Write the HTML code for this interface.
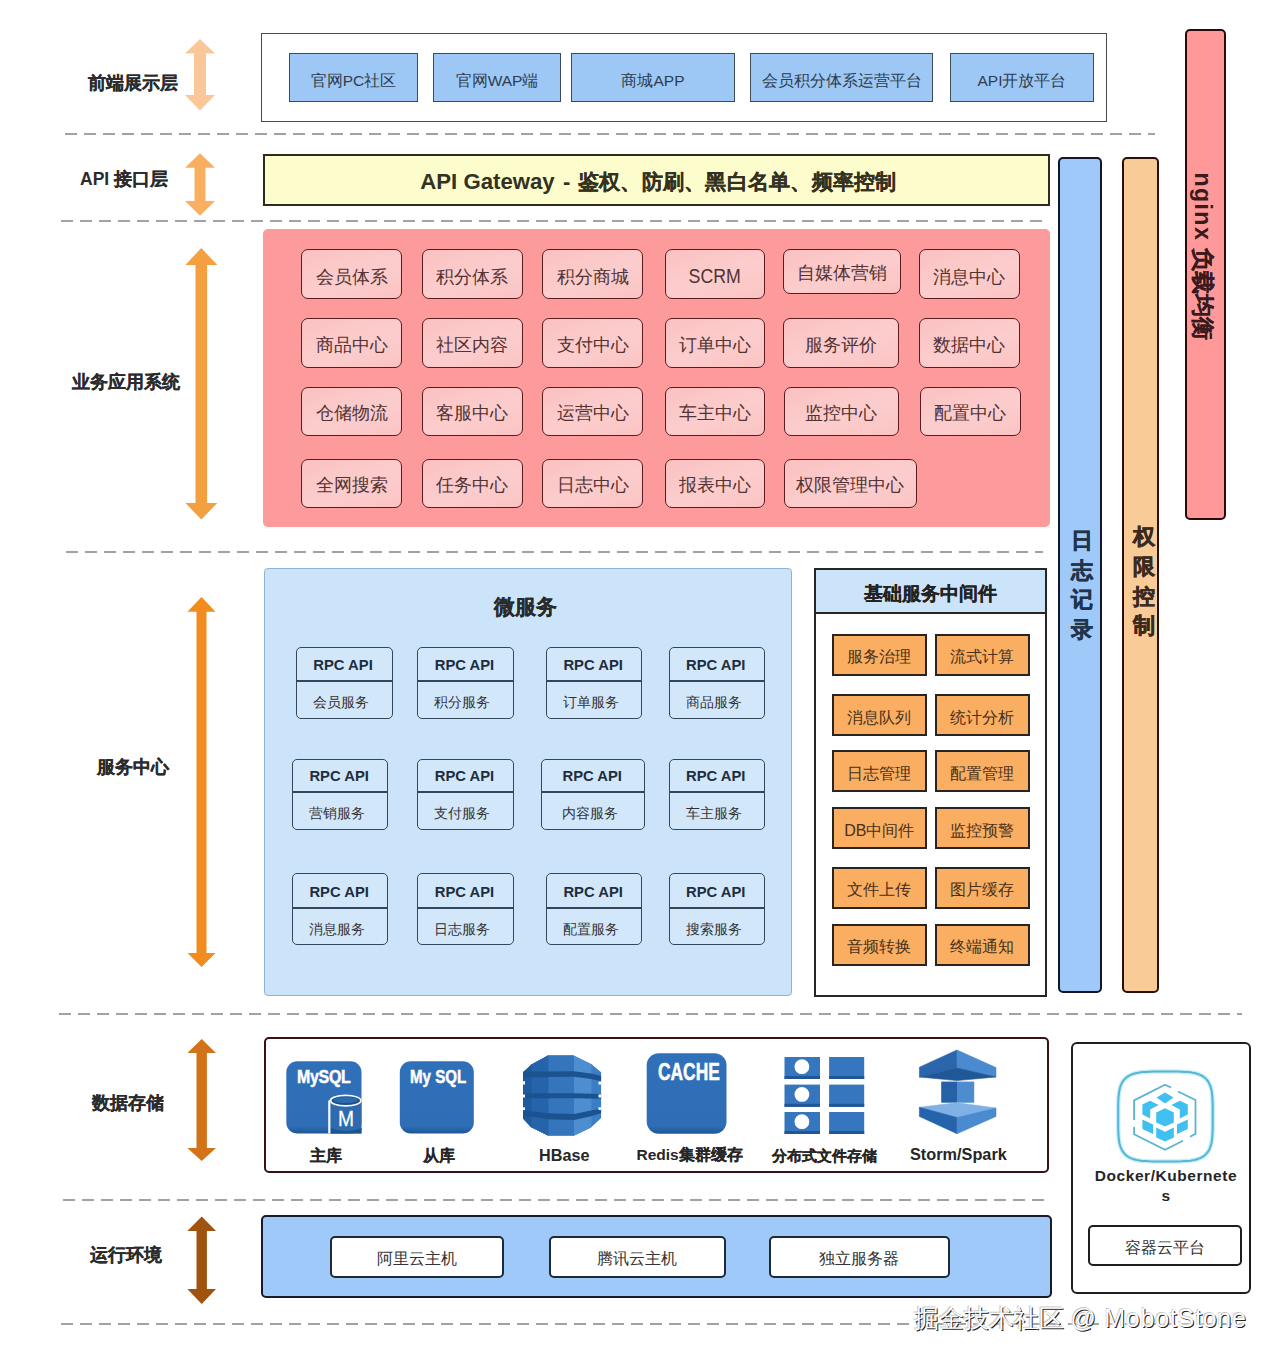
<!DOCTYPE html><html><head><meta charset="utf-8"><style>
*{margin:0;padding:0;box-sizing:border-box}
html,body{width:1280px;height:1366px;background:#fff;overflow:hidden}
body{position:relative;font-family:"Liberation Sans",sans-serif;color:#333}
div{position:absolute}
.c{display:flex;align-items:center;justify-content:center;white-space:nowrap}
.lbl{font-weight:bold;font-size:17.3px;color:#2b2b2b;white-space:nowrap;line-height:1}
.k{-webkit-text-stroke:0.2px currentColor}
.dash{height:2px;background:repeating-linear-gradient(90deg,#a2a2a2 0 12px,transparent 12px 19px)}
.fe{background:#9dc8f6;border:1.8px solid #3d4a58;color:#2f3d4d;font-size:15.5px;padding-top:7px}
.rb{background:linear-gradient(160deg,#fbc1c1,#fccdcd 55%,#fbc3c3);border:1.7px solid #5a1c1c;border-radius:7px;color:#523232;font-size:17.5px;padding-top:4px}
.rpc{border:1.6px solid #34475a;border-radius:5px;background:#d3e7fb}
.rpc .t{left:0;right:2px;top:0;font-weight:bold;font-size:14.8px;color:#1e2e3e;text-align:center;margin-top:0.5px}
.rpc .s{left:0;right:6px;font-size:14.4px;color:#333;text-align:center;margin-top:2.5px}
.rpc .d{left:0;right:0;height:1.6px;background:#34475a}
.ob{background:#f9ae62;border:2.5px solid #2a2420;color:#4a3018;font-size:16px;padding-top:6px}
.wb{background:#fff;border:2px solid #1e2a38;border-radius:5px;color:#333;font-size:15.8px;padding-top:6px}
.st{font-weight:bold;font-size:15.5px;color:#262626;white-space:nowrap}
</style></head><body>
<div class="lbl" style="left:88px;top:74.5px;font-size:17.5px"><span class="k">前端展示层</span></div>
<div class="lbl" style="left:80px;top:170.5px;font-size:17.5px">API <span class="k">接口层</span></div>
<div class="lbl" style="left:72px;top:374px;font-size:17.5px"><span class="k">业务应用系统</span></div>
<div class="lbl" style="left:97px;top:759px;font-size:17.5px"><span class="k">服务中心</span></div>
<div class="lbl" style="left:92px;top:1095px;font-size:17.5px"><span class="k">数据存储</span></div>
<div class="lbl" style="left:90px;top:1247px;font-size:17.5px"><span class="k">运行环境</span></div>
<svg style="position:absolute;left:0;top:0" width="1280" height="1366"><polygon points="200.0,39.0 215.0,53.6 206.0,53.6 206.0,95.0 215.0,95.0 200.0,110.6 185.0,95.0 194.0,95.0 194.0,53.6 185.0,53.6" fill="#fac898"/></svg>
<svg style="position:absolute;left:0;top:0" width="1280" height="1366"><polygon points="200.0,153.3 215.0,167.8 205.5,167.8 205.5,201.0 215.0,201.0 200.0,215.8 185.0,201.0 194.5,201.0 194.5,167.8 185.0,167.8" fill="#f8b060"/></svg>
<svg style="position:absolute;left:0;top:0" width="1280" height="1366"><polygon points="201.3,248.0 217.3,265.0 207.1,265.0 207.1,503.0 217.3,503.0 201.3,519.4 185.3,503.0 195.5,503.0 195.5,265.0 185.3,265.0" fill="#f5a040"/></svg>
<svg style="position:absolute;left:0;top:0" width="1280" height="1366"><polygon points="201.5,597.0 215.5,611.7 206.5,611.7 206.5,953.0 215.5,953.0 201.5,967.0 187.5,953.0 196.5,953.0 196.5,611.7 187.5,611.7" fill="#f28c1e"/></svg>
<svg style="position:absolute;left:0;top:0" width="1280" height="1366"><polygon points="201.7,1039.0 216.0,1053.0 206.9,1053.0 206.9,1148.0 216.0,1148.0 201.7,1161.0 187.4,1148.0 196.5,1148.0 196.5,1053.0 187.4,1053.0" fill="#d2731a"/></svg>
<svg style="position:absolute;left:0;top:0" width="1280" height="1366"><polygon points="201.7,1216.4 216.0,1231.0 206.9,1231.0 206.9,1289.0 216.0,1289.0 201.7,1304.0 187.4,1289.0 196.5,1289.0 196.5,1231.0 187.4,1231.0" fill="#a0520f"/></svg>
<div class="dash" style="left:65px;top:133px;width:1090px"></div>
<div class="dash" style="left:61px;top:220px;width:988px"></div>
<div class="dash" style="left:66px;top:551px;width:977px"></div>
<div class="dash" style="left:59px;top:1013px;width:1183px"></div>
<div class="dash" style="left:63px;top:1199px;width:986px"></div>
<div class="dash" style="left:61px;top:1323px;width:1184px"></div>
<div class="" style="left:261px;top:33px;width:846px;height:89px;border:1.8px solid #474a4e;background:#fff"></div>
<div class="c fe" style="left:289px;top:53px;width:129px;height:49px;"><span>官网PC社区</span></div>
<div class="c fe" style="left:433px;top:53px;width:128px;height:49px;"><span>官网WAP端</span></div>
<div class="c fe" style="left:571px;top:53px;width:164px;height:49px;"><span>商城APP</span></div>
<div class="c fe" style="left:750px;top:53px;width:183px;height:49px;"><span>会员积分体系运营平台</span></div>
<div class="c fe" style="left:950px;top:53px;width:144px;height:49px;"><span>API开放平台</span></div>
<div class="c" style="left:263px;top:154px;width:787px;height:52px;background:#fdfccc;border:2px solid #2e2a1e;font-weight:bold;font-size:22px;color:#33311f;padding-top:3px;padding-left:4px"><span><span style="font-size:22.2px">API Gateway</span><span style="margin:0 7.6px 0 8.3px">-</span><span class=k style="font-size:21.3px;letter-spacing:0.25px">鉴权、防刷、黑白名单、频率控制</span></span></div>
<div class="" style="left:263px;top:229px;width:787px;height:298px;background:#fd9a9c;border-radius:5px"></div>
<div class="c rb" style="left:301px;top:248.8px;width:101px;height:50.69999999999999px;padding-top:6.5px"><span>会员体系</span></div>
<div class="c rb" style="left:421.5px;top:248.8px;width:101.0px;height:50.69999999999999px;padding-top:6.5px"><span>积分体系</span></div>
<div class="c rb" style="left:542px;top:248.8px;width:101px;height:50.69999999999999px;padding-top:6.5px"><span>积分商城</span></div>
<div class="c rb" style="left:664.5px;top:248.8px;width:100.5px;height:50.69999999999999px;padding-top:6.5px"><span><span style="font-size:19.5px;display:inline-block;transform:translateY(-1.5px) scaleX(0.91)">SCRM</span></span></div>
<div class="c rb" style="left:782.5px;top:248.8px;width:118.0px;height:44.80000000000001px;padding-top:4px"><span>自媒体营销</span></div>
<div class="c rb" style="left:918.5px;top:248.8px;width:101.0px;height:50.69999999999999px;padding-top:6.5px"><span>消息中心</span></div>
<div class="c rb" style="left:301px;top:318px;width:101px;height:49.5px;"><span>商品中心</span></div>
<div class="c rb" style="left:421.5px;top:318px;width:101.0px;height:49.5px;"><span>社区内容</span></div>
<div class="c rb" style="left:542px;top:318px;width:101px;height:49.5px;"><span>支付中心</span></div>
<div class="c rb" style="left:664.5px;top:318px;width:100.5px;height:49.5px;"><span>订单中心</span></div>
<div class="c rb" style="left:783px;top:318px;width:116px;height:49.5px;"><span>服务评价</span></div>
<div class="c rb" style="left:918.5px;top:318px;width:101.0px;height:49.5px;"><span>数据中心</span></div>
<div class="c rb" style="left:301px;top:386.5px;width:101px;height:49.0px;"><span>仓储物流</span></div>
<div class="c rb" style="left:421.5px;top:386.5px;width:101.0px;height:49.0px;"><span>客服中心</span></div>
<div class="c rb" style="left:542px;top:386.5px;width:101px;height:49.0px;"><span>运营中心</span></div>
<div class="c rb" style="left:664.5px;top:386.5px;width:100.5px;height:49.0px;"><span>车主中心</span></div>
<div class="c rb" style="left:783.5px;top:386.5px;width:115.5px;height:49.0px;"><span>监控中心</span></div>
<div class="c rb" style="left:920px;top:386.5px;width:100.5px;height:49.0px;"><span>配置中心</span></div>
<div class="c rb" style="left:301px;top:458.5px;width:101px;height:49.0px;"><span>全网搜索</span></div>
<div class="c rb" style="left:421.5px;top:458.5px;width:101.0px;height:49.0px;"><span>任务中心</span></div>
<div class="c rb" style="left:542px;top:458.5px;width:101px;height:49.0px;"><span>日志中心</span></div>
<div class="c rb" style="left:664.5px;top:458.5px;width:100.5px;height:49.0px;"><span>报表中心</span></div>
<div class="c rb" style="left:783.5px;top:458.5px;width:133.5px;height:49.0px;"><span>权限管理中心</span></div>
<div class="" style="left:263.5px;top:568px;width:528.5px;height:428px;background:#cce4fa;border:1.5px solid #8fb3d3;border-radius:4px"></div>
<div style="left:494px;top:596.5px;font-weight:bold;font-size:20.5px;color:#2a2a2a;white-space:nowrap;line-height:1"><span class="k">微服务</span></div>
<div class="rpc" style="left:295.5px;top:647px;width:97.10000000000002px;height:71.5px"><div class="t" style="top:7.649999999999977px;line-height:18px">RPC API</div><div class="d" style="top:32.299999999999955px"></div><div class="s" style="top:42.39999999999998px;line-height:18px">会员服务</div></div>
<div class="rpc" style="left:417.4px;top:647px;width:96.20000000000005px;height:71.5px"><div class="t" style="top:7.649999999999977px;line-height:18px">RPC API</div><div class="d" style="top:32.299999999999955px"></div><div class="s" style="top:42.39999999999998px;line-height:18px">积分服务</div></div>
<div class="rpc" style="left:545.8px;top:647px;width:96.70000000000005px;height:71.5px"><div class="t" style="top:7.649999999999977px;line-height:18px">RPC API</div><div class="d" style="top:32.299999999999955px"></div><div class="s" style="top:42.39999999999998px;line-height:18px">订单服务</div></div>
<div class="rpc" style="left:668.8px;top:647px;width:95.80000000000007px;height:71.5px"><div class="t" style="top:7.649999999999977px;line-height:18px">RPC API</div><div class="d" style="top:32.299999999999955px"></div><div class="s" style="top:42.39999999999998px;line-height:18px">商品服务</div></div>
<div class="rpc" style="left:292px;top:758.6px;width:96.30000000000001px;height:71.60000000000002px"><div class="t" style="top:7.399999999999977px;line-height:18px">RPC API</div><div class="d" style="top:31.799999999999955px"></div><div class="s" style="top:42.19999999999999px;line-height:18px">营销服务</div></div>
<div class="rpc" style="left:417.4px;top:758.6px;width:96.20000000000005px;height:71.60000000000002px"><div class="t" style="top:7.399999999999977px;line-height:18px">RPC API</div><div class="d" style="top:31.799999999999955px"></div><div class="s" style="top:42.19999999999999px;line-height:18px">支付服务</div></div>
<div class="rpc" style="left:541.4px;top:758.6px;width:103.70000000000005px;height:71.60000000000002px"><div class="t" style="top:7.399999999999977px;line-height:18px">RPC API</div><div class="d" style="top:31.799999999999955px"></div><div class="s" style="top:42.19999999999999px;line-height:18px">内容服务</div></div>
<div class="rpc" style="left:668.8px;top:758.6px;width:95.80000000000007px;height:71.60000000000002px"><div class="t" style="top:7.399999999999977px;line-height:18px">RPC API</div><div class="d" style="top:31.799999999999955px"></div><div class="s" style="top:42.19999999999999px;line-height:18px">车主服务</div></div>
<div class="rpc" style="left:292px;top:873.4px;width:96.30000000000001px;height:71.60000000000002px"><div class="t" style="top:7.949999999999989px;line-height:18px">RPC API</div><div class="d" style="top:32.89999999999998px"></div><div class="s" style="top:42.75px;line-height:18px">消息服务</div></div>
<div class="rpc" style="left:417.4px;top:873.4px;width:96.20000000000005px;height:71.60000000000002px"><div class="t" style="top:7.949999999999989px;line-height:18px">RPC API</div><div class="d" style="top:32.89999999999998px"></div><div class="s" style="top:42.75px;line-height:18px">日志服务</div></div>
<div class="rpc" style="left:545.8px;top:873.4px;width:96.70000000000005px;height:71.60000000000002px"><div class="t" style="top:7.949999999999989px;line-height:18px">RPC API</div><div class="d" style="top:32.89999999999998px"></div><div class="s" style="top:42.75px;line-height:18px">配置服务</div></div>
<div class="rpc" style="left:668.8px;top:873.4px;width:95.80000000000007px;height:71.60000000000002px"><div class="t" style="top:7.949999999999989px;line-height:18px">RPC API</div><div class="d" style="top:32.89999999999998px"></div><div class="s" style="top:42.75px;line-height:18px">搜索服务</div></div>
<div class="" style="left:813.8px;top:567.6px;width:233.70000000000005px;height:429.0px;background:#fff;border:2px solid #262626"></div>
<div class="c" style="left:815.8px;top:569.6px;width:229.70000000000005px;height:44.69999999999993px;background:#cce4fa;border-bottom:2px solid #262626;font-weight:bold;font-size:19px;color:#222;padding-top:6px"><span><span class="k">基础服务中间件</span></span></div>
<div class="c ob" style="left:831.5px;top:633.8px;width:95.5px;height:42.0px;"><span>服务治理</span></div>
<div class="c ob" style="left:934.5px;top:633.8px;width:95.5px;height:42.0px;"><span>流式计算</span></div>
<div class="c ob" style="left:831.5px;top:694.1px;width:95.5px;height:42.0px;"><span>消息队列</span></div>
<div class="c ob" style="left:934.5px;top:694.1px;width:95.5px;height:42.0px;"><span>统计分析</span></div>
<div class="c ob" style="left:831.5px;top:750.4px;width:95.5px;height:42.0px;"><span>日志管理</span></div>
<div class="c ob" style="left:934.5px;top:750.4px;width:95.5px;height:42.0px;"><span>配置管理</span></div>
<div class="c ob" style="left:831.5px;top:807.3px;width:95.5px;height:42.0px;"><span>DB中间件</span></div>
<div class="c ob" style="left:934.5px;top:807.3px;width:95.5px;height:42.0px;"><span>监控预警</span></div>
<div class="c ob" style="left:831.5px;top:866.8px;width:95.5px;height:42.0px;"><span>文件上传</span></div>
<div class="c ob" style="left:934.5px;top:866.8px;width:95.5px;height:42.0px;"><span>图片缓存</span></div>
<div class="c ob" style="left:831.5px;top:923.7px;width:95.5px;height:42.0px;"><span>音频转换</span></div>
<div class="c ob" style="left:934.5px;top:923.7px;width:95.5px;height:42.0px;"><span>终端通知</span></div>
<div class="" style="left:1058.2px;top:157px;width:44.0px;height:836.4px;background:#9ec9f8;border:2.4px solid #14142a;border-radius:5px"></div>
<div class="" style="left:1121.6px;top:157px;width:37.100000000000136px;height:836.4px;background:#f9cb97;border:2px solid #2a0f0a;border-radius:5px"></div>
<div class="" style="left:1185.1px;top:28.7px;width:41.100000000000136px;height:491.00000000000006px;background:#fe9899;border:2px solid #2a0a0a;border-radius:5px"></div>
<div style="left:1070px;top:526px;width:24px;font-weight:bold;font-size:22px;line-height:29.5px;color:#22344a;text-align:center;-webkit-text-stroke:0.5px #22344a">日<br>志<br>记<br>录</div>
<div style="left:1132px;top:522px;width:24px;font-weight:bold;font-size:22px;line-height:29.8px;color:#3a2a20;text-align:center;-webkit-text-stroke:0.5px #3a2a20">权<br>限<br>控<br>制</div>
<div style="left:1201.5px;top:256px;transform:translate(-50%,-50%) rotate(90deg);font-weight:bold;font-size:23px;line-height:1;color:#3a1a1a;white-space:nowrap"><span style="letter-spacing:1.5px">nginx</span> <span class=k>负载均衡</span></div>
<div class="" style="left:263.5px;top:1037px;width:785.5px;height:136px;background:#fff;border:2.5px solid #3a1014;border-radius:5px"></div>
<svg style="position:absolute;left:0;top:0" width="1280" height="1366">
<defs><linearGradient id="mg" x1="0" y1="0" x2="0" y2="1"><stop offset="0" stop-color="#2f70b9"/><stop offset="0.9" stop-color="#2f6eb6"/><stop offset="1" stop-color="#1f5796"/></linearGradient></defs>
<rect x="286.3" y="1061.2" width="75.2" height="72.2" rx="11" fill="url(#mg)"/>
<rect x="399.8" y="1061.2" width="74" height="72.2" rx="11" fill="url(#mg)"/>
<rect x="330" y="1100" width="31.5" height="33.4" fill="#2f6aae"/>
<path d="M330.5 1128 Q346 1134 361.5 1128 V1133.4 H330.5Z" fill="#1d5590"/>
<path d="M329.3 1133.4 V1100.5" fill="none" stroke="#f4fbff" stroke-width="2.2"/>
<ellipse cx="345.6" cy="1100.6" rx="16.2" ry="6.2" fill="#f4fbff"/>
<ellipse cx="345.8" cy="1100.6" rx="14.2" ry="4.4" fill="#1c4f86"/>
<ellipse cx="345.8" cy="1100.1" rx="12.2" ry="3" fill="#2c69ad"/>
<rect x="646.7" y="1053.2" width="79.8" height="80.6" rx="12" fill="url(#mg)"/>
</svg>
<div style="left:296.5px;top:1065.5px;font-weight:bold;font-size:18.5px;line-height:22px;color:#fff;-webkit-text-stroke:0.5px #fff;transform:scaleX(0.86);transform-origin:0 0;white-space:nowrap;letter-spacing:-0.3px">MySQL</div>
<div style="left:338px;top:1106.5px;font-size:22.6px;line-height:24px;color:#fff;-webkit-text-stroke:0.3px #fff;transform:scaleX(0.85);transform-origin:0 0">M</div>
<div style="left:409.5px;top:1065.5px;font-weight:bold;font-size:18.5px;line-height:22px;color:#fff;-webkit-text-stroke:0.5px #fff;transform:scaleX(0.815);transform-origin:0 0;white-space:nowrap">My SQL</div>
<div style="left:657.5px;top:1058.5px;font-weight:bold;font-size:22px;line-height:24px;color:#fff;-webkit-text-stroke:0.5px #fff;transform:scale(0.79,1.1);transform-origin:0 0;white-space:nowrap">CACHE</div>
<svg style="position:absolute;left:0;top:0" width="1280" height="1366">
<defs><clipPath id="hb"><polygon points="548,1055.6 573.6,1055.6 591.5,1064.2 601.1,1072.3 601.1,1118 591,1127.4 574.4,1135.6 548,1135.6 531.3,1127.2 523.1,1118.5 523.1,1072.3 532,1064.2"/></clipPath></defs>
<g clip-path="url(#hb)">
<rect x="520" y="1050" width="90" height="90" fill="#3b7dc6"/>
<rect x="520" y="1050" width="71.5" height="90" fill="#4d8ed0"/>
<rect x="520" y="1050" width="54" height="90" fill="#3475bb"/>
<rect x="520" y="1050" width="28.4" height="90" fill="#2563ab"/>
<rect x="520" y="1050" width="11.5" height="90" fill="#1e5a9c"/>
<path d="M520 1071.5 L548 1071.5 L574 1071.3 L591 1073.5 L602 1076 L602 1081.5 L591 1079 L574 1076.8 L548 1077 L520 1077.5Z" fill="#1b5390"/>
<path d="M520 1093.3 L574 1093.3 L602 1094 L602 1098.8 L574 1098.3 L520 1098.3Z" fill="#1b5390"/>
<path d="M520 1111 L531 1111.3 L548 1113.3 L574 1114 L591 1110.6 L602 1108.6 L602 1113 L591 1116.3 L574 1120 L548 1119.3 L531 1116.6 L520 1116.6Z" fill="#1b5390"/>
<rect x="522" y="1081.2" width="3" height="3.4" fill="#fff"/>
<rect x="522" y="1094.5" width="3" height="3" fill="#fff"/>
<rect x="522" y="1107.3" width="3" height="2.7" fill="#fff"/>
<rect x="598.5" y="1081.5" width="3.5" height="3" fill="#fff"/>
<rect x="598.5" y="1094.5" width="3.5" height="3" fill="#fff"/>
<rect x="598.5" y="1107.3" width="3.5" height="2.7" fill="#fff"/>
</g>
</svg>
<svg style="position:absolute;left:0;top:0" width="1280" height="1366"><rect x="784.5" y="1057" width="35.5" height="22" fill="#3576bf"/><rect x="784.5" y="1076" width="35.5" height="3" fill="#1f5796"/><rect x="829.1" y="1057" width="35.10000000000002" height="22" fill="#3576bf"/><rect x="829.1" y="1076" width="35.10000000000002" height="3" fill="#1f5796"/><circle cx="801.9" cy="1066.7" r="7.4" fill="#fff"/><rect x="784.5" y="1084.6" width="35.5" height="22.200000000000045" fill="#3576bf"/><rect x="784.5" y="1103.8" width="35.5" height="3" fill="#1f5796"/><rect x="829.1" y="1084.6" width="35.10000000000002" height="22.200000000000045" fill="#3576bf"/><rect x="829.1" y="1103.8" width="35.10000000000002" height="3" fill="#1f5796"/><circle cx="801.9" cy="1094.3999999999999" r="7.4" fill="#fff"/><rect x="784.5" y="1112" width="35.5" height="22" fill="#3576bf"/><rect x="784.5" y="1131" width="35.5" height="3" fill="#1f5796"/><rect x="829.1" y="1112" width="35.10000000000002" height="22" fill="#3576bf"/><rect x="829.1" y="1131" width="35.10000000000002" height="3" fill="#1f5796"/><circle cx="801.9" cy="1121.7" r="7.4" fill="#fff"/></svg>
<svg style="position:absolute;left:0;top:0" width="1280" height="1366">
<polygon points="919.4,1067.2 957,1050 957,1068 919.4,1077" fill="#2b66ad" stroke="#2b66ad" stroke-width="0.6" stroke-linejoin="round"/>
<polygon points="957,1050 996,1067.6 996,1077 957,1068" fill="#4a8bd0" stroke="#4a8bd0" stroke-width="0.6" stroke-linejoin="round"/>
<polygon points="919.4,1077 957,1068 996,1077 957,1080.6" fill="#1f5797" stroke="#1f5797" stroke-width="0.6" stroke-linejoin="round"/>
<rect x="941.2" y="1081.6" width="16" height="21.1" fill="#2561a6"/>
<rect x="957" y="1081.6" width="17.2" height="21.1" fill="#4c8ccf"/>
<polygon points="919.4,1107.3 957,1102.7 996,1108 957,1117.5" fill="#7fb0e6" stroke="#7fb0e6" stroke-width="0.6" stroke-linejoin="round"/>
<polygon points="919.4,1107.3 957,1117.5 957,1133.7 919.4,1116.4" fill="#2563aa" stroke="#2563aa" stroke-width="0.6" stroke-linejoin="round"/>
<polygon points="957,1117.5 996,1108 996,1116.4 957,1133.7" fill="#4a8bd0" stroke="#4a8bd0" stroke-width="0.6" stroke-linejoin="round"/>
</svg>
<div class="st" style="left:310px;top:1147.5px;line-height:1"><span class="k">主库</span></div>
<div class="st" style="left:423.3px;top:1147.5px;line-height:1"><span class="k">从库</span></div>
<div class="st" style="left:539px;top:1147px;line-height:1"><span style="font-size:16.2px">HBase</span></div>
<div class="st" style="left:636.5px;top:1147px;line-height:1">Redis<span class="k">集群缓存</span></div>
<div class="st" style="left:771.8px;top:1147.5px;line-height:1"><span style="font-size:14.7px"><span class="k">分布式文件存储</span></span></div>
<div class="st" style="left:910px;top:1146px;line-height:1"><span style="font-size:16.3px">Storm/Spark</span></div>
<div class="" style="left:1071px;top:1042.3px;width:180.29999999999995px;height:251.5px;background:#fff;border:2px solid #1e1e1e;border-radius:6px"></div>
<svg style="position:absolute;left:0;top:0" width="1280" height="1366">
<polygon points="1212.7,1116.5 1212.7,1127.5 1212.6,1131.8 1212.4,1135.1 1212.2,1137.8 1211.9,1140.1 1211.6,1142.2 1211.2,1144.0 1210.7,1145.8 1210.2,1147.3 1209.6,1148.8 1208.9,1150.1 1208.2,1151.4 1207.4,1152.5 1206.5,1153.6 1205.5,1154.6 1204.5,1155.5 1203.3,1156.3 1202.1,1157.1 1200.8,1157.8 1199.4,1158.4 1197.9,1159.0 1196.2,1159.5 1194.4,1160.0 1192.5,1160.3 1190.3,1160.7 1187.8,1160.9 1185.0,1161.1 1181.6,1161.3 1177.0,1161.4 1165.5,1161.4 1153.9,1161.4 1149.3,1161.3 1145.9,1161.1 1143.1,1160.9 1140.6,1160.7 1138.4,1160.3 1136.5,1160.0 1134.7,1159.5 1133.0,1159.0 1131.5,1158.4 1130.1,1157.8 1128.8,1157.1 1127.6,1156.3 1126.4,1155.5 1125.4,1154.6 1124.4,1153.6 1123.5,1152.5 1122.7,1151.4 1122.0,1150.1 1121.3,1148.8 1120.7,1147.3 1120.2,1145.8 1119.7,1144.0 1119.3,1142.2 1119.0,1140.1 1118.7,1137.8 1118.5,1135.1 1118.3,1131.8 1118.2,1127.5 1118.2,1116.5 1118.2,1105.5 1118.3,1101.2 1118.5,1097.9 1118.7,1095.2 1119.0,1092.9 1119.3,1090.8 1119.7,1089.0 1120.2,1087.2 1120.7,1085.7 1121.3,1084.2 1122.0,1082.9 1122.7,1081.6 1123.5,1080.5 1124.4,1079.4 1125.4,1078.4 1126.4,1077.5 1127.6,1076.7 1128.8,1075.9 1130.1,1075.2 1131.5,1074.6 1133.0,1074.0 1134.7,1073.5 1136.5,1073.0 1138.4,1072.7 1140.6,1072.3 1143.1,1072.1 1145.9,1071.9 1149.3,1071.7 1153.9,1071.6 1165.4,1071.6 1177.0,1071.6 1181.6,1071.7 1185.0,1071.9 1187.8,1072.1 1190.3,1072.3 1192.5,1072.7 1194.4,1073.0 1196.2,1073.5 1197.9,1074.0 1199.4,1074.6 1200.8,1075.2 1202.1,1075.9 1203.3,1076.7 1204.5,1077.5 1205.5,1078.4 1206.5,1079.4 1207.4,1080.5 1208.2,1081.6 1208.9,1082.9 1209.6,1084.2 1210.2,1085.7 1210.7,1087.2 1211.2,1089.0 1211.6,1090.8 1211.9,1092.9 1212.2,1095.2 1212.4,1097.9 1212.6,1101.2 1212.7,1105.5" fill="none" stroke="#c4f0fb" stroke-width="4.5"/>
<polygon points="1212.7,1116.5 1212.7,1127.5 1212.6,1131.8 1212.4,1135.1 1212.2,1137.8 1211.9,1140.1 1211.6,1142.2 1211.2,1144.0 1210.7,1145.8 1210.2,1147.3 1209.6,1148.8 1208.9,1150.1 1208.2,1151.4 1207.4,1152.5 1206.5,1153.6 1205.5,1154.6 1204.5,1155.5 1203.3,1156.3 1202.1,1157.1 1200.8,1157.8 1199.4,1158.4 1197.9,1159.0 1196.2,1159.5 1194.4,1160.0 1192.5,1160.3 1190.3,1160.7 1187.8,1160.9 1185.0,1161.1 1181.6,1161.3 1177.0,1161.4 1165.5,1161.4 1153.9,1161.4 1149.3,1161.3 1145.9,1161.1 1143.1,1160.9 1140.6,1160.7 1138.4,1160.3 1136.5,1160.0 1134.7,1159.5 1133.0,1159.0 1131.5,1158.4 1130.1,1157.8 1128.8,1157.1 1127.6,1156.3 1126.4,1155.5 1125.4,1154.6 1124.4,1153.6 1123.5,1152.5 1122.7,1151.4 1122.0,1150.1 1121.3,1148.8 1120.7,1147.3 1120.2,1145.8 1119.7,1144.0 1119.3,1142.2 1119.0,1140.1 1118.7,1137.8 1118.5,1135.1 1118.3,1131.8 1118.2,1127.5 1118.2,1116.5 1118.2,1105.5 1118.3,1101.2 1118.5,1097.9 1118.7,1095.2 1119.0,1092.9 1119.3,1090.8 1119.7,1089.0 1120.2,1087.2 1120.7,1085.7 1121.3,1084.2 1122.0,1082.9 1122.7,1081.6 1123.5,1080.5 1124.4,1079.4 1125.4,1078.4 1126.4,1077.5 1127.6,1076.7 1128.8,1075.9 1130.1,1075.2 1131.5,1074.6 1133.0,1074.0 1134.7,1073.5 1136.5,1073.0 1138.4,1072.7 1140.6,1072.3 1143.1,1072.1 1145.9,1071.9 1149.3,1071.7 1153.9,1071.6 1165.4,1071.6 1177.0,1071.6 1181.6,1071.7 1185.0,1071.9 1187.8,1072.1 1190.3,1072.3 1192.5,1072.7 1194.4,1073.0 1196.2,1073.5 1197.9,1074.0 1199.4,1074.6 1200.8,1075.2 1202.1,1075.9 1203.3,1076.7 1204.5,1077.5 1205.5,1078.4 1206.5,1079.4 1207.4,1080.5 1208.2,1081.6 1208.9,1082.9 1209.6,1084.2 1210.2,1085.7 1210.7,1087.2 1211.2,1089.0 1211.6,1090.8 1211.9,1092.9 1212.2,1095.2 1212.4,1097.9 1212.6,1101.2 1212.7,1105.5" fill="none" stroke="#5ab4d2" stroke-width="2"/>
<g fill="none" stroke="#5ab4d2" stroke-width="1.8">
<polyline points="1171,1087.5 1165,1084.7 1134.1,1100.4 1134.1,1120"/>
<polyline points="1178,1091.5 1195.5,1100 1195.5,1133.9 1190,1136.8"/>
<polyline points="1134.1,1127 1134.1,1134.3 1165,1149.8 1183,1140.8"/>
</g>
<g fill="#40c0f0">
<polygon points="1165,1092.5 1173.5,1097.5 1165,1103.5 1156.5,1097.5"/>
<polygon points="1150.2,1100.8 1158.6,1105 1150.2,1109.6 1150.2,1118.5 1142.4,1114.5 1142.4,1104.5"/>
<polygon points="1179.8,1100.8 1187.8,1104.5 1187.8,1114.5 1179.8,1118.5 1179.8,1109.6 1171.4,1105"/>
<polygon points="1165,1108.2 1173.8,1112.6 1173.8,1122.4 1165,1126.6 1156.2,1122.4 1156.2,1112.6"/>
<polygon points="1142.4,1119.6 1153,1124.5 1153,1134 1142.4,1129"/>
<polygon points="1177,1124.5 1187.8,1119.6 1187.8,1129 1177,1134"/>
<polygon points="1156.2,1127.5 1165,1131.8 1173.8,1127.5 1173.8,1137.5 1165,1141.6 1156.2,1137.5"/>
</g>
</svg>
<div style="left:1076px;width:180px;top:1166px;text-align:center;font-weight:bold;font-size:15.5px;line-height:20px;letter-spacing:0.55px;color:#262626">Docker/Kubernete<br>s</div>
<div class="c" style="left:1088.1px;top:1225.3px;width:153.70000000000005px;height:40.90000000000009px;background:#fff;border:2px solid #1e1e1e;border-radius:5px;font-size:15.6px;color:#333;padding-top:5px"><span>容器云平台</span></div>
<div class="" style="left:261.2px;top:1215.2px;width:790.8px;height:83.29999999999995px;background:#9ec9f8;border:2.5px solid #1a1a2a;border-radius:5px"></div>
<div class="c wb" style="left:330.1px;top:1236px;width:173.59999999999997px;height:41.59999999999991px;"><span>阿里云主机</span></div>
<div class="c wb" style="left:548.5px;top:1236px;width:177.70000000000005px;height:41.59999999999991px;"><span>腾讯云主机</span></div>
<div class="c wb" style="left:768.5px;top:1236px;width:181.60000000000002px;height:41.59999999999991px;"><span>独立服务器</span></div>
<div style="left:913.5px;top:1305px;font-size:25px;line-height:1.1;color:#fcfcfc;white-space:nowrap;text-shadow:1px 1px 0 #222,-0.6px -0.6px 0 #c8c8c8,0 0 3px #fff,0 0 3px #fff">掘金技术社区 <span style="letter-spacing:0.75px">@ MobotStone</span></div>
</body></html>
